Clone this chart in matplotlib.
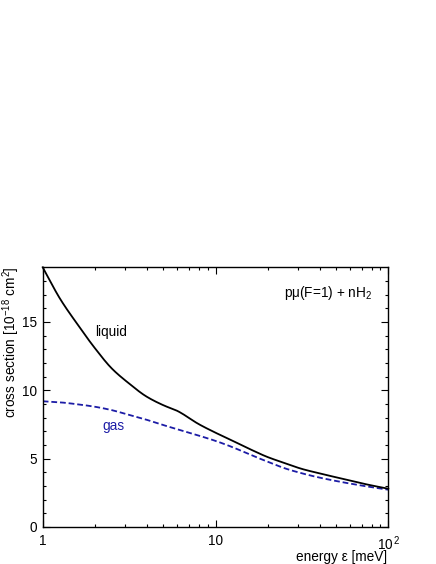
import matplotlib
matplotlib.use("Agg")
import matplotlib.pyplot as plt
from matplotlib.ticker import FixedLocator, NullFormatter, FixedFormatter
import numpy as np

plt.rcParams['font.family'] = ['Liberation Sans', 'DejaVu Sans']
plt.rcParams['mathtext.fontset'] = 'custom'
plt.rcParams['mathtext.rm'] = 'Liberation Sans'
plt.rcParams['mathtext.it'] = 'Liberation Sans'

# energies (meV), read at roughly 0.1-decade steps
liquid_E = [1.0, 1.26, 1.585, 2.0, 2.51, 3.16, 3.98, 5.01, 6.0, 6.31, 7.94, 10.0,
            12.6, 15.8, 20.0, 25.1, 31.6, 39.8, 50.1, 63.1, 79.4, 100.0]
liquid_s = [19.0, 16.7, 14.85, 13.1, 11.6, 10.5, 9.55, 8.9, 8.5, 8.35, 7.55, 6.9,
            6.3, 5.7, 5.12, 4.68, 4.25, 3.93, 3.63, 3.33, 3.05, 2.8]
gas_E = [1.0, 1.26, 1.585, 2.0, 2.51, 3.16, 3.98, 5.01, 6.31, 7.94, 10.0,
         12.6, 15.8, 20.0, 25.1, 31.6, 39.8, 50.1, 63.1, 79.4, 100.0]
gas_s = [9.2, 9.12, 8.98, 8.8, 8.55, 8.2, 7.85, 7.45, 7.07, 6.7, 6.3,
         5.83, 5.3, 4.78, 4.3, 3.93, 3.62, 3.36, 3.13, 2.92, 2.73]

fig = plt.figure(figsize=(4.36, 5.64), dpi=100)
W, H = 436, 564
ax = fig.add_axes([42.7 / W, 1 - 527 / H, (388.3 - 42.7) / W, (527 - 267.3) / H])

def smooth(xs, ys, n=400):
    lx = np.log10(xs); ys = np.asarray(ys, float)
    t = np.linspace(lx[0], lx[-1], n)
    h = np.diff(lx); d = np.diff(ys) / h
    m = np.zeros(len(lx))
    m[0] = d[0]; m[-1] = d[-1]
    for i in range(1, len(lx) - 1):
        if d[i - 1] * d[i] <= 0:
            m[i] = 0
        else:
            w1 = 2 * h[i] + h[i - 1]; w2 = h[i] + 2 * h[i - 1]
            m[i] = (w1 + w2) / (w1 / d[i - 1] + w2 / d[i])
    out = np.empty_like(t)
    for k, tt in enumerate(t):
        i = min(max(np.searchsorted(lx, tt, side='right') - 1, 0), len(lx) - 2)
        s = (tt - lx[i]) / h[i]
        h00 = 2*s**3 - 3*s**2 + 1; h10 = s**3 - 2*s**2 + s
        h01 = -2*s**3 + 3*s**2; h11 = s**3 - s**2
        out[k] = h00*ys[i] + h10*h[i]*m[i] + h01*ys[i+1] + h11*h[i]*m[i+1]
    return 10**t, out

xl, yl = smooth(liquid_E, liquid_s)
xg, yg = smooth(gas_E, gas_s)
ax.plot(xl, yl, color='black', lw=1.3, zorder=3, clip_on=False)
ax.plot(xg, yg, color='#1c1ca6', lw=1.3, ls=(0, (3.2, 1.6)), zorder=2)

ax.set_xscale('log')
ax.set_xlim(1, 100)
ax.set_ylim(0, 19)

ax.xaxis.set_major_locator(FixedLocator([1, 10, 100]))
ax.xaxis.set_major_formatter(FixedFormatter(['1', '10', r'10$^{\,2}$']))
ax.xaxis.set_minor_locator(FixedLocator([2,3,4,5,6,7,8,9,20,30,40,50,60,70,80,90]))
ax.xaxis.set_minor_formatter(NullFormatter())
ax.yaxis.set_major_locator(FixedLocator([0, 5, 10, 15]))
ax.yaxis.set_minor_locator(FixedLocator([i for i in range(0, 19) if i % 5 != 0]))

ax.tick_params(which='both', direction='in', top=True, right=True, labelsize=9.8, width=0.8)
ax.tick_params(which='major', length=5)
ax.tick_params(axis='x', which='major', pad=5)
ax.tick_params(axis='y', which='major', pad=4)
ax.tick_params(which='minor', length=2.5)
for sp in ax.spines.values():
    sp.set_linewidth(1.0)

fig.text(387 / W, 1 - 556.5 / H, 'energy ε [meV]', fontsize=9.8, ha='right', va='center')
fig.text(11 / W, 1 - 267 / H, r'cross section [10$^{-18}$ cm$^{2}$]', fontsize=9.8,
         rotation=90, ha='center', va='top')

ax.text(0.198, 0.75, 'liquid', transform=ax.transAxes, fontsize=9.8, ha='center', va='center')
ax.text(0.206, 0.389, 'gas', transform=ax.transAxes, fontsize=9.8, ha='center', va='center', color='#1c1ca6')
ax.text(0.827, 0.90, r'pμ(F=1) + nH$_2$', transform=ax.transAxes, fontsize=9.8, ha='center', va='center')

fig.savefig('out.png', dpi=100)
